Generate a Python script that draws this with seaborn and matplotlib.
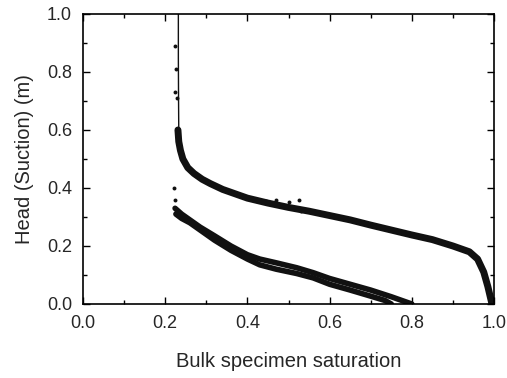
import matplotlib
matplotlib.use('Agg')
import matplotlib.pyplot as plt
from matplotlib.ticker import MultipleLocator, FormatStrFormatter
import seaborn as sns

# drying branch (upper curve)
dry_sat = [0.231, 0.233, 0.237, 0.243, 0.255, 0.27, 0.29, 0.31, 0.34, 0.37, 0.40,
           0.45, 0.50, 0.55, 0.60, 0.65, 0.70, 0.75, 0.80, 0.85, 0.90, 0.94,
           0.96, 0.975, 0.985, 0.995]
dry_head = [0.60, 0.56, 0.53, 0.50, 0.47, 0.45, 0.43, 0.415, 0.395, 0.38, 0.365,
            0.348, 0.333, 0.32, 0.305, 0.29, 0.272, 0.255, 0.238, 0.222, 0.20, 0.18,
            0.155, 0.11, 0.06, 0.0]

# near-vertical sparse part at the top of the drying branch
top_sat = [0.232, 0.232, 0.2325, 0.233]
top_head = [1.0, 0.85, 0.70, 0.60]

# wetting branches (two close curves)
wet1_sat = [0.224, 0.24, 0.26, 0.285, 0.32, 0.36, 0.40, 0.43, 0.47, 0.52, 0.56,
            0.60, 0.65, 0.70, 0.75, 0.80]
wet1_head = [0.33, 0.31, 0.29, 0.265, 0.235, 0.20, 0.17, 0.155, 0.142, 0.125, 0.108,
             0.088, 0.068, 0.048, 0.025, 0.0]
wet2_sat = [0.226, 0.24, 0.26, 0.285, 0.32, 0.36, 0.40, 0.43, 0.47, 0.52, 0.56,
            0.60, 0.65, 0.70, 0.735, 0.75]
wet2_head = [0.31, 0.295, 0.28, 0.255, 0.22, 0.185, 0.155, 0.135, 0.12, 0.105, 0.09,
             0.068, 0.048, 0.027, 0.012, 0.0]

# stray points and small bumps
stray_sat = [0.225, 0.226, 0.223, 0.228, 0.221, 0.224, 0.445, 0.47, 0.50,
             0.525, 0.53]
stray_head = [0.89, 0.81, 0.73, 0.71, 0.40, 0.36, 0.355, 0.357, 0.35,
              0.36, 0.32]

sns.set_style('ticks')
plt.rcParams['font.family'] = ['Liberation Sans', 'DejaVu Sans']

fig = plt.figure(figsize=(5.07, 3.78), dpi=100)
ax = fig.add_axes([0.1637, 0.1958, 0.8107, 0.7672])

col = '#111111'
sns.lineplot(x=top_sat, y=top_head, ax=ax, color=col, lw=1.0, sort=False, estimator=None)
sns.lineplot(x=dry_sat, y=dry_head, ax=ax, color=col, lw=5.0, sort=False, estimator=None)
sns.lineplot(x=wet1_sat, y=wet1_head, ax=ax, color=col, lw=4.0, sort=False, estimator=None)
sns.lineplot(x=wet2_sat, y=wet2_head, ax=ax, color=col, lw=4.0, sort=False, estimator=None)
sns.scatterplot(x=stray_sat, y=stray_head, ax=ax, color=col, s=8, linewidth=0)

ax.set_xlim(0, 1)
ax.set_ylim(0, 1)
ax.xaxis.set_major_locator(MultipleLocator(0.2))
ax.xaxis.set_minor_locator(MultipleLocator(0.1))
ax.yaxis.set_major_locator(MultipleLocator(0.2))
ax.yaxis.set_minor_locator(MultipleLocator(0.1))
ax.xaxis.set_major_formatter(FormatStrFormatter('%.1f'))
ax.yaxis.set_major_formatter(FormatStrFormatter('%.1f'))
ax.tick_params(which='both', direction='in', top=True, right=True, width=1, color='black')
ax.tick_params(which='major', length=5, labelsize=13, pad=8)
ax.tick_params(which='minor', length=3)
for s in ax.spines.values():
    s.set_linewidth(1.2)
    s.set_color('black')

ax.set_xlabel('Bulk specimen saturation', fontsize=14.5, labelpad=14)
ax.set_ylabel('Head (Suction) (m)', fontsize=14.5, labelpad=9)

fig.savefig('out.png', dpi=100)
